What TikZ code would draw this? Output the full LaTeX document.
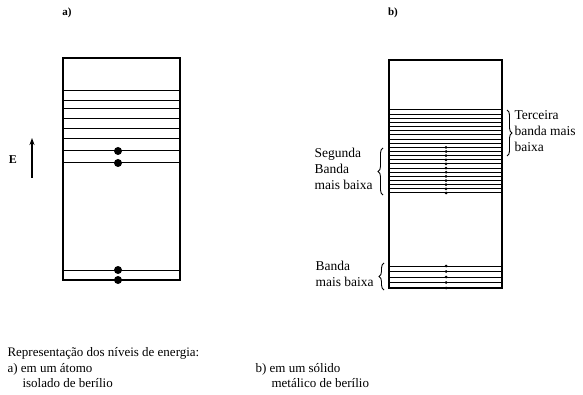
\documentclass[tikz,border=0pt]{standalone}
\usepackage{fontspec}
\setmainfont{Liberation Serif}
\usetikzlibrary{arrows.meta, decorations.pathreplacing}
\tikzset{
  level/.style={line width=1pt, black},
  box/.style={line width=1.1pt, black},
  bigdot/.style={circle, fill=black, inner sep=0pt, minimum size=8pt},
  smalldot/.style={circle, fill=black, inner sep=0pt, minimum size=3pt},
  bandbrace/.style={decorate, decoration={brace, amplitude=5pt}, line width=0.9pt},
  bandlabel/.style={anchor=west, align=left, font=\fontsize{13.5}{16}\selectfont},
  caption/.style={anchor=west, align=left, font=\fontsize{13}{15}\selectfont},
  partlabel/.style={font=\fontsize{11}{13}\selectfont\bfseries}
}

\begin{document}
\begin{tikzpicture}[x=1pt, y=-1pt]
  \useasboundingbox (0,0) rectangle (583,395);

  % part labels
  \node[partlabel] (pa) at (67,13) {a)};
  \node[partlabel] (pb) at (393,13) {b)};

  % a) isolated atom
  \draw[box] (63,58) rectangle (180,280);
  \foreach \y in {91,101,109,119,129,139,151,163,270}
    \draw[level] (63,\y) -- (180,\y);
  \foreach \y [count=\i] in {151,163,270,280}
    \node[bigdot] (e\i) at (118,\y) {};

  % energy axis
  \coordinate (Ebase) at (32,178);
  \coordinate (Etop) at (32,138);
  \draw[line width=1.1pt, -{Stealth[length=7pt, width=5pt]}] (Ebase) -- (Etop);
  \node[font=\fontsize{12}{14}\selectfont\bfseries] (E) at (13,160) {E};

  % b) metallic solid
  \draw[box] (389,60) rectangle (502,288);
  \foreach \i in {0,...,20}
    \draw[level] (389,110+4.15*\i) -- (502,110+4.15*\i);
  \foreach \i in {9,...,20}
    \node[smalldot] (s\i) at (446,110+4.15*\i) {};
  \foreach \y [count=\i] in {266,271.5,277,282.5,288}
  {
    \draw[level] (389,\y) -- (502,\y);
    \node[smalldot] (l\i) at (446,\y) {};
  }

  % braces
  \coordinate (tTop) at (507,110);
  \coordinate (tBot) at (507,156);
  \draw[bandbrace] (tTop) -- (tBot);
  \coordinate (sTop) at (383,148);
  \coordinate (sBot) at (383,195);
  \draw[bandbrace] (sBot) -- (sTop);
  \coordinate (lTop) at (384,263);
  \coordinate (lBot) at (384,290);
  \draw[bandbrace] (lBot) -- (lTop);

  % band labels
  \node[bandlabel] (terceira) at (511,131) {Terceira\\banda mais\\baixa};
  \node[bandlabel] (segunda) at (311,169) {Segunda\\Banda\\mais baixa};
  \node[bandlabel] (primeira) at (312,274) {Banda\\mais baixa};

  % caption
  \node[caption] (cap) at (4,353) {Representação dos níveis de energia:};
  \node[caption] (capa) at (4,375.5) {a)\ em um átomo\\\hspace*{15pt}isolado de berílio};
  \node[caption] (capb) at (252,375.5) {b)\ em um sólido\\\hspace*{16pt}metálico de berílio};
\end{tikzpicture}
\end{document}
